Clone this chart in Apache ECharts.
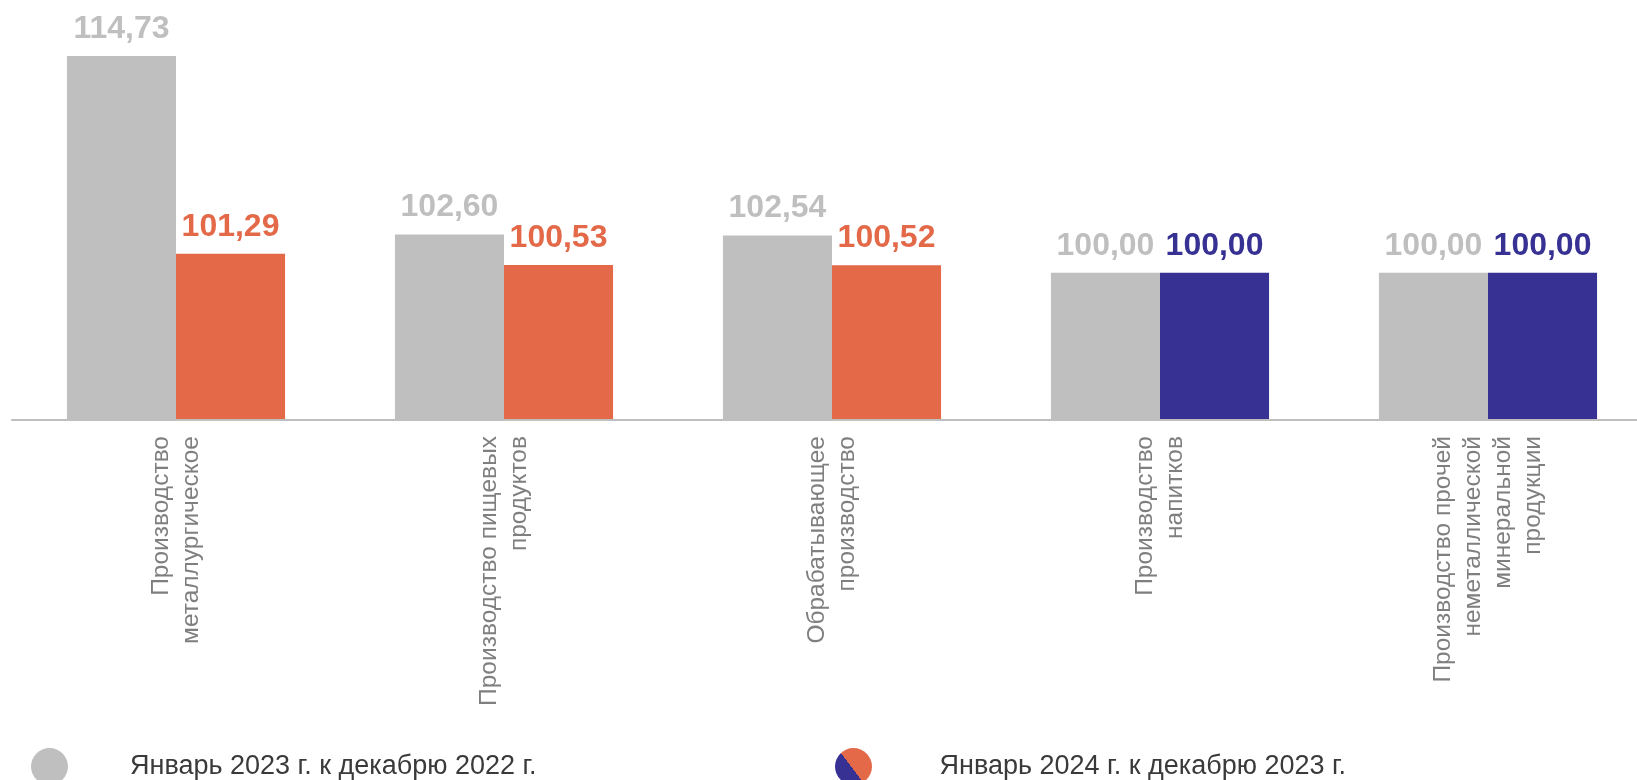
<!DOCTYPE html>
<html>
<head>
<meta charset="utf-8">
<script src="https://cdn.jsdelivr.net/npm/echarts@6/dist/echarts.min.js"></script>
<style>
  html, body { margin: 0; padding: 0; background: #fff; overflow: hidden; width: 1637px; height: 780px; }
  #chart { width: 1652px; height: 780px; }
</style>
</head>
<body>
<div id="chart"></div>
<script>
const categories = [
  'Производство\nметаллургическое',
  'Производство пищевых\nпродуктов',
  'Обрабатывающее\nпроизводство',
  'Производство\nнапитков',
  'Производство прочей\nнеметаллической\nминеральной\nпродукции'
];
const seriesNames = ['Январь 2023 г. к декабрю 2022 г.', 'Январь 2024 г. к декабрю 2023 г.'];
const values2023 = [114.73, 102.60, 102.54, 100.00, 100.00];
const values2024 = [101.29, 100.53, 100.52, 100.00, 100.00];

const GRAY = '#BFBFBF';
const ORANGE = '#E36948';
const BLUE = '#373194';
const FONT = '"Liberation Sans", Arial, sans-serif';

const fmt = v => Number(v).toFixed(2).replace('.', ',');
const color2024 = v => (v > 100 ? ORANGE : BLUE);

const splitIcon = {
  type: 'linear', x: 0.1, y: 0.8, x2: 0.9, y2: 0.2,
  colorStops: [
    { offset: 0, color: BLUE }, { offset: 0.45, color: BLUE },
    { offset: 0.45, color: ORANGE }, { offset: 1, color: ORANGE }
  ]
};

const chart = echarts.init(document.getElementById('chart'));
chart.setOption({
  animation: false,
  textStyle: { fontFamily: FONT },
  grid: { left: 12, right: 0, top: 52, bottom: 360, containLabel: false },
  legend: [
    {
      data: [seriesNames[0]],
      left: 31, top: 748, padding: 0,
      icon: 'circle', itemWidth: 37, itemHeight: 37,
      textStyle: { fontSize: 27, color: '#3A3A3A', fontFamily: FONT, padding: [0, 0, 0, 57] },
      selectedMode: false
    },
    {
      data: [{ name: seriesNames[1], itemStyle: { color: splitIcon } }],
      left: 835, top: 748, padding: 0,
      icon: 'circle', itemWidth: 38, itemHeight: 37,
      textStyle: { fontSize: 27, color: '#3A3A3A', fontFamily: FONT, padding: [0, 0, 0, 62] },
      selectedMode: false
    }
  ],
  xAxis: {
    type: 'category',
    data: categories,
    axisLine: { show: true, lineStyle: { color: '#BFBFBF', width: 2 } },
    axisTick: { show: false },
    axisLabel: {
      interval: 0, rotate: 90, margin: 16,
      color: '#7F7F7F', fontSize: 24.5, lineHeight: 30, fontFamily: FONT
    },
    z: 5
  },
  yAxis: {
    type: 'value', min: 90, max: 115,
    show: false,
    splitLine: { show: false }
  },
  series: [
    {
      name: seriesNames[0],
      type: 'bar',
      data: values2023,
      barGap: '0%',
      barCategoryGap: '33.5%',
      itemStyle: { color: GRAY },
      label: {
        show: true, position: 'top', distance: 11,
        formatter: p => fmt(p.value),
        color: GRAY, fontSize: 32, fontWeight: 'bold', fontFamily: FONT
      }
    },
    {
      name: seriesNames[1],
      type: 'bar',
      data: values2024.map(v => ({
        value: v,
        itemStyle: { color: color2024(v) },
        label: { color: color2024(v) }
      })),
      barGap: '0%',
      barCategoryGap: '33.5%',
      itemStyle: { color: splitIcon },
      label: {
        show: true, position: 'top', distance: 11,
        formatter: p => fmt(p.value),
        fontSize: 32, fontWeight: 'bold', fontFamily: FONT
      }
    }
  ]
});
</script>
</body>
</html>
